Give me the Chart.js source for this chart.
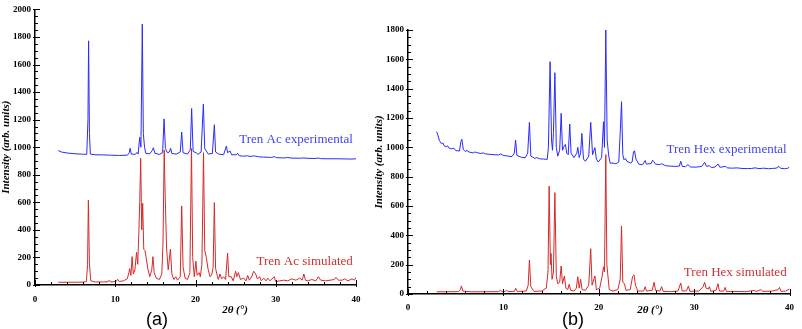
<!DOCTYPE html>
<html>
<head>
<meta charset="utf-8">
<script src="https://cdn.jsdelivr.net/npm/chart.js@4.4.0/dist/chart.umd.min.js"></script>
<style>
body { margin: 0; background: #fff; width: 802px; height: 329px; overflow: hidden; position: relative; }
canvas { position: absolute; top: 0; }
.xtitle { position: absolute; font-family: "Liberation Serif", serif; font-weight: bold; font-style: italic; font-size: 11px; transform: translate(-50%, -50%); white-space: nowrap; }
.panel { position: absolute; font-family: "Liberation Sans", sans-serif; font-size: 18px; transform: translate(-50%, -50%); }
</style>
</head>
<body>
<canvas id="chartA" width="372" height="329" style="left:0"></canvas>
<canvas id="chartB" width="430" height="329" style="left:372px"></canvas>
<div class="xtitle" style="left:235px; top:309px">2θ (°)</div>
<div class="xtitle" style="left:650px; top:309px">2θ (°)</div>
<div class="panel" style="left:157px; top:319px">(a)</div>
<div class="panel" style="left:573px; top:319px">(b)</div>
<script>
// [2theta, intensity]

// Tren Ac experimental
var acExp = [[2.9,975],[3.3,965],[4,958],[5,952],[6,949],[6.45,948],[6.6,1200],[6.68,1772],[6.78,1100],[6.9,950],
  [7.5,945],[8.5,944],[9.5,942],[10.5,940],[11.5,942],[11.75,960],[11.85,992],[12,950],[12.5,948],[12.7,962],
  [12.85,950],[13.05,1072],[13.2,1000],[13.37,1893],[13.5,1100],[13.65,1000],[13.8,955],[14.3,952],[14.6,975],[14.75,996],
  [14.95,955],[15.5,948],[15.9,960],[16.08,1205],[16.25,990],[16.5,960],[16.75,965],[16.9,992],[17.05,955],[17.6,950],
  [18.1,965],[18.28,1110],[18.45,960],[19,950],[19.35,980],[19.52,1281],[19.7,970],[20.1,958],[20.3,948],[20.7,965],
  [20.98,1312],[21.15,990],[21.35,972],[21.6,950],[22.1,955],[22.35,1163],[22.5,965],[22.9,950],[23.5,945],[23.85,1008],
  [24,960],[24.3,973],[24.5,945],[25.1,945],[25.25,956],[25.45,938],[26,935],[26.5,938],[26.8,932],[27.2,937],
  [27.5,935],[27.9,930],[28.5,928],[29.5,926],[29.8,932],[30.1,924],[31,922],[31.5,925],[32,921],[33,920],
  [33.5,922],[34,919],[35,918],[35.3,922],[35.6,917],[36.5,916],[37.5,916],[38.5,915],[39.5,914],[40,916]];

// Tren Ac simulated
var acSim = [[2.9,20],[4,20],[5,20],[6,21],[6.4,25],[6.55,150],[6.65,615],[6.78,160],[6.95,30],[7.5,22],
  [8.5,22],[9.1,24],[9.25,35],[9.4,22],[10.1,25],[10.3,42],[10.5,25],[11,30],[11.5,45],[11.7,90],
  [11.8,119],[11.95,70],[12.1,206],[12.25,80],[12.45,110],[12.65,237],[12.8,150],[12.95,400],[13.05,600],[13.17,920],
  [13.3,400],[13.42,593],[13.55,260],[13.7,250],[13.85,200],[14.05,120],[14.3,60],[14.55,110],[14.7,206],[14.85,90],
  [15.1,50],[15.5,40],[15.8,80],[15.95,300],[16.1,980],[16.22,650],[16.4,260],[16.6,110],[16.88,261],[17.05,80],
  [17.3,40],[17.55,60],[17.75,35],[18.1,60],[18.28,574],[18.45,130],[18.7,50],[19,40],[19.3,90],[19.5,990],
  [19.65,200],[19.85,60],[20.05,173],[20.2,70],[20.45,90],[20.6,60],[20.8,150],[21,960],[21.15,250],[21.35,200],
  [21.55,120],[21.8,60],[22,70],[22.2,130],[22.35,598],[22.5,120],[22.7,70],[22.85,40],[23.05,80],[23.25,45],
  [23.5,60],[23.75,40],[24,232],[24.15,60],[24.45,60],[24.7,30],[25,100],[25.15,60],[25.35,90],[25.6,40],
  [26,50],[26.3,30],[26.5,70],[26.7,35],[27,60],[27.25,100],[27.5,80],[27.7,45],[28,60],[28.2,30],
  [28.5,50],[28.8,30],[29,50],[29.3,30],[29.8,60],[30,25],[30.5,30],[31,35],[31.5,30],[32,45],
  [32.5,35],[33,50],[33.3,35],[33.5,80],[33.7,35],[34,30],[34.5,40],[35,30],[35.3,60],[35.6,35],
  [36.2,30],[36.8,35],[37.3,40],[37.5,55],[37.8,35],[38.3,35],[38.6,45],[39,30],[39.5,45],[39.8,35],[40,55]];

// Tren Hex experimental
var hexExp = [[3,1107],[3.1,1090],[3.3,1045],[3.5,1025],[3.65,1030],[3.8,1010],[4,1005],[4.15,1010],[4.3,995],[4.6,990],
  [4.8,995],[5,978],[5.4,975],[5.55,1040],[5.65,1055],[5.8,985],[6,972],[6.2,978],[6.4,968],[6.8,962],
  [7,968],[7.2,965],[7.6,958],[7.9,962],[8.1,955],[8.6,952],[9,950],[9.5,948],[9.7,955],[10,945],
  [10.5,940],[10.9,937],[11.15,960],[11.28,1050],[11.42,945],[11.9,932],[12.3,930],[12.55,960],[12.73,1170],[12.88,940],
  [13.3,925],[13.5,930],[13.8,922],[14.2,920],[14.6,918],[14.72,1000],[14.9,1584],[15.05,1050],[15.15,980],[15.25,1100],
  [15.4,1509],[15.55,1000],[15.7,940],[15.9,980],[16.06,1232],[16.2,980],[16.35,1005],[16.5,1020],[16.65,960],[16.8,950],
  [16.96,1159],[17.1,960],[17.4,930],[17.7,960],[17.8,1000],[17.95,930],[18.1,960],[18.23,1095],[18.4,920],[18.6,905],
  [18.95,940],[19.16,1170],[19.35,950],[19.6,998],[19.75,920],[19.95,900],[20.3,930],[20.5,1175],[20.6,1000],[20.74,1800],
  [20.88,1050],[21.05,940],[21.2,891],[21.5,893],[21.8,888],[22.1,900],[22.25,1100],[22.39,1311],[22.52,950],[22.65,915],
  [22.8,925],[22.95,905],[23.3,893],[23.5,900],[23.65,970],[23.75,977],[23.9,920],[24.2,885],[24.6,882],[24.87,910],
  [25,885],[25.5,890],[25.65,912],[25.75,905],[25.95,885],[26.4,883],[26.6,888],[27,875],[27.5,872],[28,870],
  [28.45,872],[28.6,905],[28.75,870],[29.1,868],[29.35,882],[29.6,866],[30.2,865],[30.8,870],[31.1,898],[31.3,870],
  [31.6,875],[31.8,862],[32.2,866],[32.5,886],[32.7,864],[33.3,870],[33.5,860],[34,858],[34.5,860],[35,856],
  [35.6,855],[36,856],[36.4,860],[36.8,855],[37.3,858],[37.8,854],[38.2,856],[38.6,858],[38.9,870],[39.1,856],
  [39.5,854],[39.8,857],[40,865]];

// Tren Hex simulated
var hexSim = [[3,15],[5.3,16],[5.5,30],[5.6,55],[5.75,20],[6.5,15],[9.5,16],[9.7,25],[9.85,16],[10.2,18],
  [10.35,25],[10.5,16],[11.15,18],[11.3,39],[11.45,17],[12.4,20],[12.6,60],[12.73,232],[12.88,50],[13.2,18],
  [14,20],[14.5,40],[14.68,150],[14.8,736],[14.93,200],[15,277],[15.1,100],[15.25,150],[15.4,691],[15.55,120],
  [15.7,70],[15.9,80],[16.06,191],[16.2,70],[16.4,123],[16.55,40],[16.75,30],[16.9,66],[17.05,25],[17.4,20],
  [17.65,40],[17.8,118],[17.95,40],[18.1,100],[18.25,30],[18.6,25],[18.95,60],[19.16,309],[19.3,60],[19.6,123],
  [19.75,30],[20.1,40],[20.35,120],[20.5,186],[20.6,150],[20.74,950],[20.85,200],[21.1,30],[21.5,20],[22,30],
  [22.25,100],[22.39,464],[22.52,80],[22.7,70],[22.85,25],[23.3,30],[23.55,120],[23.7,130],[23.85,60],[24.1,20],
  [24.7,20],[24.87,50],[25,20],[25.6,25],[25.8,80],[25.95,25],[26.4,20],[26.6,50],[26.75,18],[27.5,16],
  [28.3,20],[28.6,75],[28.75,20],[29.2,22],[29.4,55],[29.55,18],[30.5,20],[30.95,50],[31.1,80],[31.25,40],
  [31.5,35],[31.6,50],[31.75,18],[32.3,25],[32.5,70],[32.65,20],[33.1,20],[33.25,45],[33.4,16],[34.5,17],
  [35.5,16],[36.3,25],[36.5,17],[37,30],[37.2,18],[38.2,20],[38.8,30],[38.95,45],[39.1,18],[39.6,20],[40,35]];

var blue = '#2b2bff';
var red = '#d62a2a';
var serif = '"Liberation Serif", "DejaVu Serif", serif';

// inward major / minor ticks like the original plotting program
var minorTicks = {
    id: 'minorTicks',
    afterDraw: function (chart) {
        var ctx = chart.ctx;
        var xs = chart.scales.x, ys = chart.scales.y;
        var a = chart.chartArea;
        ctx.save();
        ctx.strokeStyle = '#000';
        ctx.lineWidth = 1;
        for (var v = 0; v <= xs.max; v += 2) {
            var px = Math.round(xs.getPixelForValue(v)) + 0.5;
            var major = v % 10 === 0;
            ctx.beginPath();
            ctx.moveTo(px, a.bottom + (major ? 2 : 0));
            ctx.lineTo(px, a.bottom - (major ? 5 : 3));
            ctx.stroke();
        }
        for (var w = 0; w <= ys.max; w += 50) {
            var py = Math.round(ys.getPixelForValue(w)) + 0.5;
            var maj = w % 200 === 0;
            ctx.beginPath();
            ctx.moveTo(a.left - (maj ? 2 : 0), py);
            ctx.lineTo(a.left + (maj ? 5 : 3), py);
            ctx.stroke();
        }
        ctx.restore();
    }
};

// series names written next to the curves
var curveLabels = {
    id: 'curveLabels',
    afterDatasetsDraw: function (chart, args, opts) {
        var ctx = chart.ctx;
        ctx.save();
        ctx.font = '13px ' + serif;
        ctx.textAlign = 'right';
        ctx.textBaseline = 'middle';
        opts.items.forEach(function (it) {
            ctx.fillStyle = it.color;
            ctx.fillText(it.text, chart.scales.x.getPixelForValue(it.x), chart.scales.y.getPixelForValue(it.y));
        });
        ctx.restore();
    }
};

function toPoints(list) {
    return list.map(function (p) { return { x: p[0], y: p[1] }; });
}

function plain(value) {
    return String(value);
}

function makeChart(id, exp, sim, yMax, axisW, axisH, xPad, pad, titlePad, labels) {
    var tickFont = { family: serif, weight: 'bold', size: 9 };
    return new Chart(document.getElementById(id), {
        type: 'line',
        data: {
            datasets: [
                { data: toPoints(exp), borderColor: blue, borderWidth: 1, pointRadius: 0, tension: 0 },
                { data: toPoints(sim), borderColor: red, borderWidth: 1, pointRadius: 0, tension: 0 }
            ]
        },
        options: {
            responsive: false,
            animation: false,
            layout: { padding: pad },
            plugins: {
                legend: { display: false },
                tooltip: { enabled: false },
                curveLabels: { items: labels }
            },
            scales: {
                x: {
                    type: 'linear', min: 0, max: 40,
                    grid: { display: false, drawTicks: false, tickLength: 0 },
                    border: { display: true, color: '#000', width: 1.5 },
                    ticks: { stepSize: 10, font: tickFont, color: '#000', padding: xPad, maxRotation: 0, callback: plain },
                    afterFit: function (s) { s.height = axisH; }
                },
                y: {
                    min: 0, max: yMax,
                    grid: { display: false, drawTicks: false, tickLength: 0 },
                    border: { display: true, color: '#000', width: 1.5 },
                    ticks: { stepSize: 200, font: tickFont, color: '#000', padding: 4, callback: plain },
                    title: {
                        display: true, text: 'Intensity (arb. units)', color: '#000',
                        font: { family: serif, weight: 'bold', style: 'italic', size: 11 },
                        padding: { top: titlePad, bottom: 0 }
                    },
                    afterFit: function (s) { s.width = axisW; }
                }
            }
        },
        plugins: [minorTicks, curveLabels]
    });
}

makeChart('chartA', acExp, acSim, 2000, 35, 44, 9, { top: 4, right: 16, left: 0, bottom: 0 }, 0, [
    { text: 'Tren Ac experimental', x: 39.6, y: 1053, color: '#4444f0' },
    { text: 'Tren Ac simulated', x: 39.6, y: 171, color: '#cc3333' }
]);

makeChart('chartB', hexExp, hexSim, 1800, 36, 35, 8, { top: 30, right: 6, left: 0, bottom: 0 }, 1, [
    { text: 'Tren Hex experimental', x: 39.7, y: 982, color: '#4444f0' },
    { text: 'Tren Hex simulated', x: 39.7, y: 143, color: '#cc3333' }
]);
</script>
</body>
</html>
